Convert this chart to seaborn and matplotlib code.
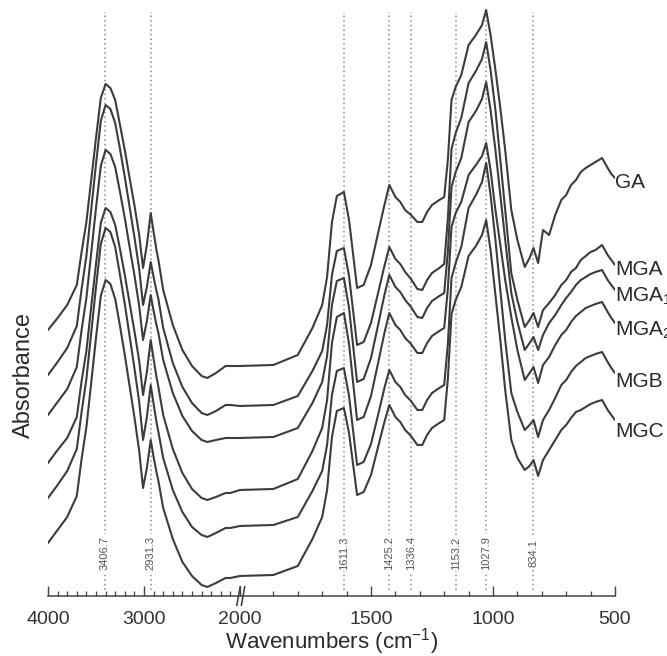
import numpy as np
import pandas as pd
import matplotlib
matplotlib.use("Agg")
import matplotlib.pyplot as plt
import seaborn as sns

# wavenumbers (cm-1) sampled along every spectrum
wavenumbers = [4000, 3900, 3800, 3700, 3650, 3600, 3550, 3500, 3450, 3400,
               3350, 3300, 3250, 3200, 3150, 3100, 3050, 3010, 2970, 2930,
               2900, 2870, 2850, 2800, 2700, 2600, 2500, 2400, 2340, 2250,
               2150, 2100, 2000,
               1900, 1800, 1740, 1700, 1680, 1660, 1640, 1611, 1590, 1557,
               1530, 1500, 1470, 1445, 1425, 1400, 1380, 1360, 1336, 1310,
               1290, 1270, 1250, 1220, 1200, 1185, 1170, 1153, 1130, 1100,
               1070, 1045, 1028, 1010, 990, 970, 950, 925, 900, 870,
               850, 834, 815, 795, 770, 745, 720, 700, 680, 660,
               640, 620, 600, 580, 553, 530, 515, 500]

# stacked absorbance (offset included), units of 0.01
ga = [270, 282, 295, 315, 348, 378, 420, 462, 502, 516,
      512, 500, 475, 450, 422, 395, 365, 332, 355, 387,
      368, 350, 340, 310, 275, 250, 234, 224, 222, 227,
      234, 234, 234,
      235, 245, 272, 295, 323, 378, 404, 408, 380, 312,
      315, 335, 368, 395, 415, 403, 398, 390, 385, 378,
      378, 388, 395, 400, 403, 440, 500, 513, 525, 555,
      565, 575, 590, 565, 530, 492, 450, 390, 360, 333,
      342, 352, 337, 370, 365, 385, 400, 405, 415, 420,
      428, 432, 435, 438, 442, 432, 426, 422]
mga = [225, 238, 252, 274, 311, 344, 390, 436, 479, 495,
       491, 477, 451, 423, 393, 363, 331, 295, 313, 338,
       323, 309, 301, 272, 237, 213, 197, 187, 185, 189,
       195, 195, 194,
       195, 204, 229, 249, 275, 325, 349, 352, 324, 255,
       258, 277, 308, 334, 353, 341, 336, 328, 321, 311,
       310, 320, 327, 332, 336, 381, 451, 467, 482, 517,
       529, 541, 558, 530, 490, 440, 390, 327, 300, 273,
       280, 287, 273, 290, 297, 305, 315, 320, 328, 332,
       340, 344, 348, 350, 355, 345, 340, 335]
mga1 = [185, 198, 211, 233, 270, 302, 347, 392, 434, 450,
        446, 433, 408, 382, 353, 325, 294, 260, 279, 305,
        289, 275, 267, 240, 207, 184, 169, 160, 158, 160,
        162, 162, 162,
        163, 172, 197, 218, 244, 295, 319, 322, 292, 218,
        221, 242, 276, 305, 325, 313, 308, 300, 293, 283,
        282, 292, 299, 304, 307, 348, 413, 428, 442, 478,
        489, 501, 518, 490, 450, 405, 360, 307, 278, 250,
        257, 263, 250, 265, 277, 285, 295, 302, 308, 315,
        320, 323, 326, 328, 330, 320, 315, 310]
mga2 = [137, 150, 162, 183, 219, 249, 293, 336, 377, 392,
        388, 375, 351, 325, 297, 269, 239, 205, 228, 260,
        241, 223, 213, 185, 151, 127, 111, 102, 100, 103,
        107, 107, 110,
        111, 121, 149, 172, 200, 257, 283, 287, 256, 180,
        183, 204, 238, 267, 287, 275, 270, 262, 256, 247,
        247, 257, 264, 269, 272, 311, 373, 387, 398, 425,
        435, 444, 457, 430, 390, 355, 320, 283, 250, 220,
        227, 233, 217, 235, 243, 255, 265, 270, 278, 284,
        288, 292, 294, 296, 298, 288, 282, 277]
mgb = [102, 115, 129, 151, 188, 221, 267, 313, 356, 372,
       368, 353, 325, 296, 264, 232, 198, 160, 183, 215,
       196, 178, 168, 142, 110, 88, 73, 65, 63, 67,
       72, 72, 74,
       75, 83, 109, 129, 155, 205, 229, 232, 204, 135,
       138, 156, 186, 212, 230, 218, 213, 205, 199, 190,
       190, 200, 207, 212, 215, 256, 322, 337, 353, 392,
       405, 418, 437, 405, 360, 310, 260, 207, 188, 170,
       175, 180, 163, 180, 190, 202, 215, 220, 228, 234,
       238, 242, 244, 246, 248, 238, 232, 227]
mgc = [57, 70, 83, 104, 141, 173, 217, 262, 304, 320,
       316, 301, 274, 245, 214, 183, 149, 112, 132, 160,
       143, 128, 119, 92, 61, 38, 24, 15, 13, 17,
       22, 22, 24,
       25, 34, 61, 83, 110, 163, 189, 192, 167, 105,
       108, 125, 154, 178, 195, 183, 178, 170, 164, 155,
       155, 165, 172, 177, 180, 221, 286, 300, 313, 344,
       354, 365, 380, 350, 305, 260, 210, 160, 142, 130,
       134, 140, 124, 140, 150, 160, 170, 175, 182, 188,
       190, 193, 196, 198, 200, 190, 185, 180]

samples = ["GA", "MGA", "MGA1", "MGA2", "MGB", "MGC"]
sample_labels = ["GA", "MGA", r"MGA$_\mathregular{1}$", r"MGA$_\mathregular{2}$", "MGB", "MGC"]
label_y = [4.17, 3.30, 3.04, 2.70, 2.18, 1.68]

peak_marks = [3406.7, 2931.3, 1611.3, 1425.2, 1336.4, 1153.2, 1027.9, 834.1]
major_ticks = [4000, 3000, 2000, 1500, 1000, 500]


# broken wavenumber axis: 2000-500 expanded, 4000-2000 compressed
def fwd(w):
    w = np.asarray(w, dtype=float)
    return np.where(w >= 2000, 375 + (w - 2000) * 0.096, (w - 500) * 0.244)


def inv(u):
    u = np.asarray(u, dtype=float)
    return np.where(u >= 375, 2000 + (u - 375) / 0.096,
                    np.where(u > 366, 2000.0, 500 + u / 0.244))


frames = []
for name, vals in zip(samples, [ga, mga, mga1, mga2, mgb, mgc]):
    frames.append(pd.DataFrame({"wavenumber": wavenumbers,
                                "absorbance": np.array(vals) / 100.0,
                                "sample": name}))
df = pd.concat(frames, ignore_index=True)

sns.set_style("white")
plt.rcParams["font.family"] = ["Liberation Sans", "DejaVu Sans"]
plt.rcParams["mathtext.fontset"] = "custom"
plt.rcParams["mathtext.rm"] = "Liberation Sans"

fig = plt.figure(figsize=(6.67, 6.56), dpi=100)
ax = fig.add_axes([0.07196, 0.0915, 0.85007, 0.8963])
ax.set_xscale("function", functions=(fwd, inv))

line_col = "#3c3c3c"
sns.lineplot(data=df, x="wavenumber", y="absorbance", hue="sample",
             palette=[line_col] * len(samples), estimator=None, sort=True,
             legend=False, linewidth=1.5, ax=ax, zorder=3)

ax.set_xlim(4000, 500)
ax.set_ylim(0.04, 5.92)

# dotted band markers with their values
ax.vlines(peak_marks, 0.10, 5.88, colors="#8a8a8a", linestyles=(0, (1, 2)),
          linewidth=1.1, zorder=1)
for p in peak_marks:
    ax.text(p, 0.47, f"{p:.1f}", rotation=90, ha="center", va="center",
            fontsize=8, color="#555555", zorder=2,
            bbox=dict(boxstyle="square,pad=0.15", fc="white", ec="none"))

# sample names at the right end (subscripts run off the edge as in the original)
for lab, yy in zip(sample_labels, label_y):
    ax.text(498, yy, lab, ha="left", va="center", fontsize=15,
            color="#2a2a2a", clip_on=False)

ax.xaxis.set_major_locator(matplotlib.ticker.FixedLocator(major_ticks))
ax.xaxis.set_minor_locator(matplotlib.ticker.FixedLocator(
    [w for w in range(600, 4000, 100) if w not in major_ticks]))
ax.xaxis.set_major_formatter(matplotlib.ticker.FixedFormatter([str(t) for t in major_ticks]))
ax.tick_params(axis="x", which="both", bottom=True)
ax.tick_params(axis="x", which="major", direction="in", length=7, width=1,
               color="#444444", labelsize=14, labelcolor="#333333", pad=11)
ax.tick_params(axis="x", which="minor", direction="in", length=3.5, width=0.9,
               color="#444444")
ax.set_yticks([])

sns.despine(ax=ax, left=True)
ax.spines["bottom"].set_color("#444444")
ax.spines["bottom"].set_linewidth(1.1)

# axis break mark at 2000
for xb in (0.336, 0.344):
    ax.plot([xb - 0.003, xb + 0.003], [-0.016, 0.016], transform=ax.transAxes,
            color="#444444", lw=1.2, clip_on=False)

ax.set_xlabel(r"Wavenumbers (cm$^\mathregular{-1}$)", fontsize=16, color="#2a2a2a")
ax.xaxis.set_label_coords(0.5, -0.052)
ax.xaxis.label.set_va("top")
ax.set_ylabel("Absorbance", fontsize=17, color="#2a2a2a")
ax.yaxis.set_label_coords(-0.023, 0.376)

fig.savefig("out.png", dpi=100)
